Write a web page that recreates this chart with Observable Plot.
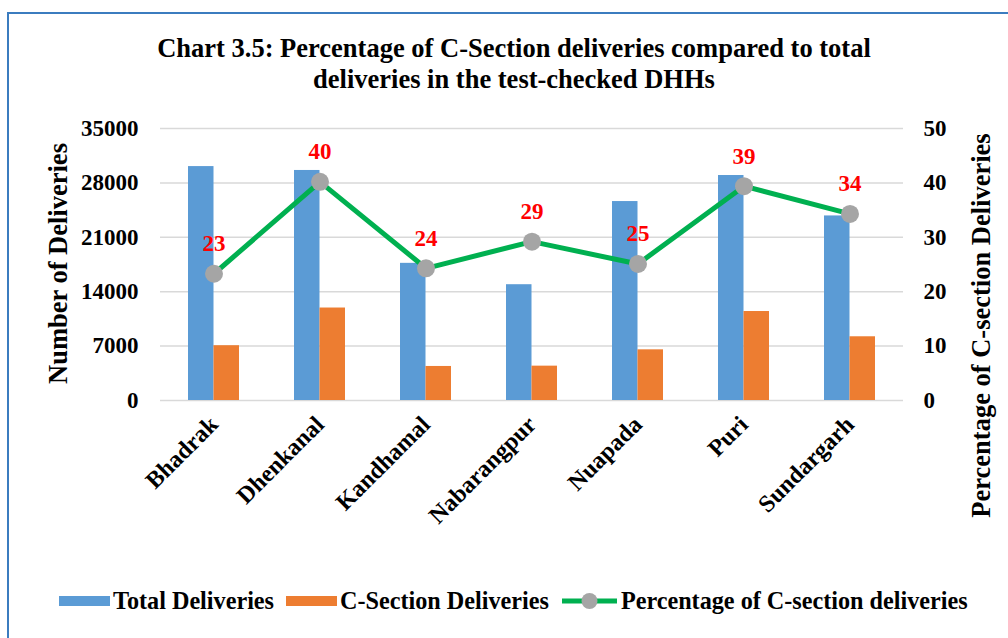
<!DOCTYPE html>
<html>
<head>
<meta charset="utf-8">
<script src="https://cdn.jsdelivr.net/npm/d3@7"></script>
<script src="https://cdn.jsdelivr.net/npm/@observablehq/plot@0.6"></script>
<style>
  html, body { margin: 0; padding: 0; background: #fff; }
  #wrap { position: relative; width: 1008px; height: 638px; overflow: hidden; font-family: "Liberation Serif", "Times New Roman", serif; font-weight: bold; color: #000; }
  #frame { position: absolute; left: 7px; top: 12px; width: 1200px; height: 800px; border: 2px solid #3b7cbf; box-sizing: border-box; }
  #title { position: absolute; left: 0; top: 33px; width: 1028px; text-align: center; font-size: 26.5px; line-height: 31px; }
  #chart { position: absolute; left: 0; top: 100px; }
  .axt { position: absolute; font-size: 26.5px; white-space: nowrap; transform-origin: center center; }
  #legend { position: absolute; left: 59px; top: 586px; display: flex; align-items: center; font-size: 24.2px; height: 30px; white-space: nowrap; }
  .sw { width: 51px; height: 10px; margin-right: 3px; }
  .lg { margin-right: 12px; }
</style>
</head>
<body>
<div id="wrap">
  <div id="frame"></div>
  <div id="title">Chart 3.5: Percentage of C-Section deliveries compared to total<br>deliveries in the test-checked DHHs</div>
  <div id="chart"></div>
  <div class="axt" id="ytl">Number of Deliveries</div>
  <div class="axt" id="ytr">Percentage of C-section Deliveries</div>
  <div id="legend"></div>
</div>
<script>
const districts = ["Bhadrak", "Dhenkanal", "Kandhamal", "Nabarangpur", "Nuapada", "Puri", "Sundargarh"];
const totalDeliveries = [30100, 29600, 17650, 14900, 25600, 28950, 23750];
const csectionDeliveries = [7050, 11900, 4380, 4420, 6520, 11450, 8200];
const csectionPct = [23.3, 40.2, 24.3, 29.2, 25.1, 39.4, 34.3];
const leftTicks = [0, 7000, 14000, 21000, 28000, 35000];
const rightTicks = [0, 10, 20, 30, 40, 50];

const seriesNames = ["Total Deliveries", "C-Section Deliveries", "Percentage of C-section deliveries"];
const colors = { total: "#5B9BD5", csec: "#ED7D31", line: "#00B050", dot: "#A5A5A5", label: "#FF0000" };

const yMax = leftTicks[leftTicks.length - 1];
const pMax = rightTicks[rightTicks.length - 1];
const k = yMax / pMax;

const rows = districts.map((d, i) => ({
  district: d, total: totalDeliveries[i], csec: csectionDeliveries[i], pct: csectionPct[i], pctY: csectionPct[i] * k
}));

const W = 1008, H = 440;

const plot = Plot.plot({
  width: W, height: H,
  marginLeft: 160, marginRight: 105, marginTop: 28, marginBottom: 140,
  style: { fontFamily: "'Liberation Serif', 'Times New Roman', serif", fontWeight: "bold", fontSize: "23px", color: "#000", background: "transparent" },
  x: { type: "band", domain: districts, paddingInner: 0.52, paddingOuter: 0.26, label: null },
  y: { domain: [0, yMax], label: null },
  marks: [
    Plot.ruleY(leftTicks, { stroke: "#D9D9D9", strokeWidth: 1.5 }),
    Plot.barY(rows, { x: "district", y: "total", fill: colors.total, insetRight: 25.5 }),
    Plot.barY(rows, { x: "district", y: "csec", fill: colors.csec, insetLeft: 25.5 }),
    Plot.line(rows, { x: "district", y: "pctY", stroke: colors.line, strokeWidth: 5 }),
    Plot.dot(rows, { x: "district", y: "pctY", r: 9, fill: colors.dot, stroke: "none" }),
    Plot.text(rows, { x: "district", y: "pctY", text: d => d3.format(".0f")(d.pct), dy: -30, fill: colors.label, fontSize: 23, fontWeight: "bold" }),
    Plot.axisY({ anchor: "left", ticks: leftTicks, tickFormat: d3.format("d"), tickSize: 0, tickPadding: 22, fontSize: 23, label: null }),
    Plot.axisY({ anchor: "right", ticks: rightTicks.map(p => p * k), tickFormat: v => d3.format("d")(v / k), tickSize: 0, tickPadding: 20, fontSize: 23, label: null }),
    Plot.axisX({ tickSize: 0, tickRotate: -45, tickPadding: 20, fontSize: 24, label: null })
  ]
});
document.getElementById("chart").appendChild(plot);

function placeRot(id, cx, cy) {
  const el = document.getElementById(id);
  const w = el.offsetWidth, h = el.offsetHeight;
  el.style.left = (cx - w / 2) + "px";
  el.style.top = (cy - h / 2) + "px";
  el.style.transform = "rotate(-90deg)";
}
placeRot("ytl", 58, 263);
placeRot("ytr", 981, 325);

const legend = document.getElementById("legend");
const items = [
  { name: seriesNames[0], type: "rect", color: colors.total },
  { name: seriesNames[1], type: "rect", color: colors.csec },
  { name: seriesNames[2], type: "line" }
];
items.forEach(it => {
  if (it.type === "rect") {
    const s = document.createElement("div");
    s.className = "sw"; s.style.background = it.color;
    legend.appendChild(s);
  } else {
    const ns = "http://www.w3.org/2000/svg";
    const svg = document.createElementNS(ns, "svg");
    svg.setAttribute("width", 57); svg.setAttribute("height", 20);
    svg.style.marginRight = "3px";
    const l = document.createElementNS(ns, "line");
    l.setAttribute("x1", 1); l.setAttribute("x2", 56); l.setAttribute("y1", 10); l.setAttribute("y2", 10);
    l.setAttribute("stroke", colors.line); l.setAttribute("stroke-width", 5);
    svg.appendChild(l);
    const c = document.createElementNS(ns, "circle");
    c.setAttribute("cx", 28.5); c.setAttribute("cy", 10); c.setAttribute("r", 8); c.setAttribute("fill", colors.dot);
    svg.appendChild(c);
    legend.appendChild(svg);
  }
  const t = document.createElement("span");
  t.className = "lg"; t.textContent = it.name;
  legend.appendChild(t);
});
</script>
</body>
</html>
